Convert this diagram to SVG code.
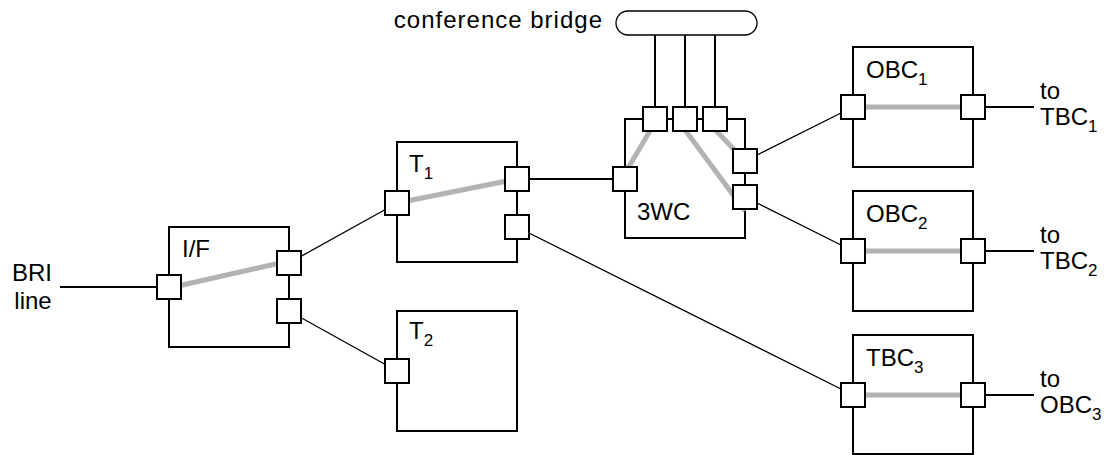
<svg xmlns="http://www.w3.org/2000/svg" width="1116" height="455" viewBox="0 0 1116 455">
  <style>
    .box { fill: #ffffff; stroke: #000000; stroke-width: 2; }
    .port { fill: #ffffff; stroke: #000000; stroke-width: 2; }
    .path { stroke: #b3b3b3; stroke-width: 5; fill: none; }
    .wire { stroke: #000000; stroke-width: 1.3; fill: none; }
    .trunk { stroke: #000000; stroke-width: 2; fill: none; }
    .bridge { fill: #ffffff; stroke: #000000; stroke-width: 1.3; }
    text { font-family: "Liberation Sans", Arial, sans-serif; font-size: 24px; fill: #000000; }
    .sub { font-size: 17px; }
  </style>
  <defs>
    <rect id="port" class="port" x="-12" y="-12" width="24" height="24"/>
  </defs>

  <rect width="1116" height="455" fill="#ffffff"/>

  <!-- connectors between nodes -->
  <g id="connectors">
    <line class="trunk" x1="60" y1="287" x2="169" y2="287"/>
    <line class="wire" x1="289" y1="263" x2="397" y2="203"/>
    <line class="wire" x1="289" y1="311" x2="397" y2="371"/>
    <line class="trunk" x1="517" y1="179" x2="625" y2="179"/>
    <line class="wire" x1="517" y1="227" x2="853" y2="395"/>
    <line class="wire" x1="745" y1="161" x2="853" y2="107"/>
    <line class="wire" x1="745" y1="197" x2="853" y2="251"/>
    <line class="trunk" x1="655" y1="35" x2="655" y2="119"/>
    <line class="trunk" x1="685" y1="35" x2="685" y2="119"/>
    <line class="trunk" x1="715" y1="35" x2="715" y2="119"/>
    <line class="trunk" x1="973" y1="107" x2="1034" y2="107"/>
    <line class="trunk" x1="973" y1="251" x2="1034" y2="251"/>
    <line class="trunk" x1="973" y1="395" x2="1034" y2="395"/>
  </g>

  <!-- external labels -->
  <g id="bri-line">
    <text x="32" y="281" text-anchor="middle">BRI</text>
    <text x="33" y="309" text-anchor="middle">line</text>
  </g>

  <g id="bridge">
    <rect class="bridge" x="616" y="11" width="141" height="24" rx="12" ry="12"/>
    <text x="603" y="28" text-anchor="end" letter-spacing="1">conference bridge</text>
  </g>

  <!-- interface -->
  <g id="if">
    <rect class="box" x="169" y="227" width="120" height="120"/>
    <line class="path" x1="169" y1="288" x2="289" y2="261"/>
    <use href="#port" x="169" y="287"/>
    <use href="#port" x="289" y="263"/>
    <use href="#port" x="289" y="311"/>
    <text x="182" y="257">I/F</text>
  </g>

  <g id="t1">
    <rect class="box" x="397" y="142" width="120" height="120"/>
    <line class="path" x1="397" y1="203" x2="517" y2="179"/>
    <use href="#port" x="397" y="203"/>
    <use href="#port" x="517" y="179"/>
    <use href="#port" x="517" y="227"/>
    <text x="409" y="172">T<tspan class="sub" dy="7">1</tspan></text>
  </g>

  <g id="t2">
    <rect class="box" x="397" y="311" width="120" height="120"/>
    <use href="#port" x="397" y="371"/>
    <text x="409" y="339">T<tspan class="sub" dy="7">2</tspan></text>
  </g>

  <!-- three-way call -->
  <g id="twc">
    <rect class="box" x="625" y="119" width="120" height="119"/>
    <line class="path" x1="621" y1="180" x2="657" y2="119"/>
    <line class="path" x1="677" y1="119" x2="745" y2="211"/>
    <line class="path" x1="705" y1="119" x2="745" y2="161"/>
    <use href="#port" x="655" y="119"/>
    <use href="#port" x="685" y="119"/>
    <use href="#port" x="715" y="119"/>
    <use href="#port" x="625" y="179"/>
    <use href="#port" x="745" y="161"/>
    <use href="#port" x="745" y="197"/>
    <text x="637" y="220">3WC</text>
  </g>

  <g id="obc1">
    <rect class="box" x="853" y="47" width="120" height="120"/>
    <line class="path" x1="853" y1="107" x2="973" y2="107"/>
    <use href="#port" x="853" y="107"/>
    <use href="#port" x="973" y="107"/>
    <text x="866" y="78">OBC<tspan class="sub" dy="7">1</tspan></text>
    <text x="1040" y="99">to</text>
    <text x="1040" y="125">TBC<tspan class="sub" dy="7">1</tspan></text>
  </g>

  <g id="obc2">
    <rect class="box" x="853" y="191" width="120" height="120"/>
    <line class="path" x1="853" y1="251" x2="973" y2="251"/>
    <use href="#port" x="853" y="251"/>
    <use href="#port" x="973" y="251"/>
    <text x="866" y="222">OBC<tspan class="sub" dy="7">2</tspan></text>
    <text x="1040" y="243">to</text>
    <text x="1040" y="269">TBC<tspan class="sub" dy="7">2</tspan></text>
  </g>

  <g id="tbc3">
    <rect class="box" x="853" y="335" width="120" height="119"/>
    <line class="path" x1="853" y1="395" x2="973" y2="395"/>
    <use href="#port" x="853" y="395"/>
    <use href="#port" x="973" y="395"/>
    <text x="866" y="366">TBC<tspan class="sub" dy="7">3</tspan></text>
    <text x="1040" y="387">to</text>
    <text x="1040" y="413">OBC<tspan class="sub" dy="7">3</tspan></text>
  </g>
</svg>
